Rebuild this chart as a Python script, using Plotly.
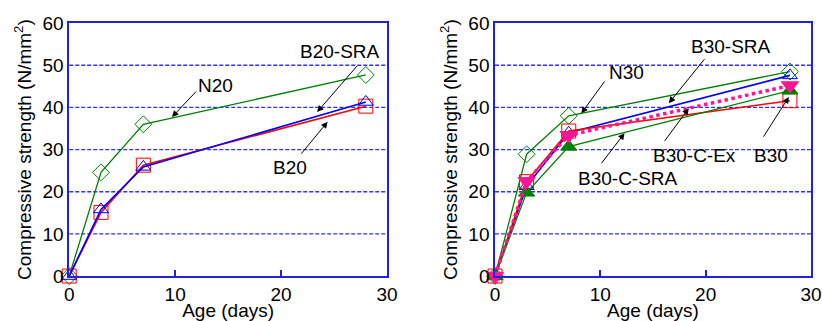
import plotly.graph_objects as go
from plotly.subplots import make_subplots

# ---- data ----
age = [0, 3, 7, 28]

n20 = [0, 24.6, 36.0, 47.7]
b20 = [0, 15.1, 26.3, 40.3]
b20_sra = [0, 15.8, 25.9, 41.3]

n30 = [0, 28.9, 38.0, 48.5]
b30_sra = [0, 21.3, 34.0, 47.6]
b30 = [0, 22.4, 34.4, 41.6]
b30_c_ex = [0, 22.5, 33.4, 45.2]
b30_c_sra = [0, 19.8, 30.7, 44.0]

x_ticks = [0, 10, 20, 30]
y_ticks = [0, 10, 20, 30, 40, 50, 60]

GREEN = "#008000"
RED = "#ff0000"
BLUE = "#0000ff"
PINK = "#ff1493"
AXIS = "#2222dd"
GRID = "#3030ff"
FONT = "Liberation Sans, Arial, sans-serif"

fig = make_subplots(rows=1, cols=2)

def add(col, y, color, symbol, size, width=1.4, dash="solid", name=""):
    fig.add_trace(go.Scatter(
        x=age, y=y, mode="lines+markers", name=name,
        line=dict(color=color, width=width, dash=dash),
        marker=dict(symbol=symbol, size=size, color=color,
                    line=dict(color=color, width=1)),
        cliponaxis=False, showlegend=False), row=1, col=col)

# dotted horizontal grid lines at the y tick values (below the data)
for col in (1, 2):
    xr = "x domain" if col == 1 else "x2 domain"
    yr = "y" if col == 1 else "y2"
    for v in y_ticks[1:-1]:
        fig.add_shape(type="line", xref=xr, yref=yr, x0=0, x1=1, y0=v, y1=v,
                      line=dict(color=GRID, width=1.3, dash="4px,2px"),
                      layer="below")

# left panel
add(1, n20, GREEN, "diamond-open", 13, 1.3, name="N20")
add(1, b20, RED, "square-open", 14, 1.6, name="B20")
add(1, b20_sra, BLUE, "triangle-up-open", 13, 1.6, name="B20-SRA")

# right panel
add(2, n30, GREEN, "diamond-open", 13, 1.3, name="N30")
add(2, b30_sra, BLUE, "triangle-up-open", 13, 1.6, name="B30-SRA")
add(2, b30, RED, "square-open", 14, 1.6, name="B30")
add(2, b30_c_sra, GREEN, "triangle-up", 14, 1.3, name="B30-C-SRA")
add(2, b30_c_ex, PINK, "triangle-down", 15, 3.5, dash="dot", name="B30-C-Ex")

tick_font = dict(size=19, color="black", family=FONT)
title_font = dict(size=19, family=FONT, color="black")

fig.update_xaxes(range=[0, 30], tickvals=x_ticks, ticks="inside",
                 ticklen=6, tickcolor=AXIS, tickwidth=1.5, showgrid=False,
                 showline=True, linecolor=AXIS, linewidth=1.5, mirror=True,
                 tickfont=tick_font, zeroline=False, automargin=False,
                 title=dict(text="Age (days)", font=title_font, standoff=2))
fig.update_yaxes(range=[0, 60], tickvals=y_ticks, ticks="",
                 showgrid=False,
                 showline=True, linecolor=AXIS, linewidth=1.5, mirror=True,
                 tickfont=tick_font, zeroline=False, automargin=False,
                 domain=[0.14, 0.928],
                 title=dict(text="Compressive strength (N/mm<sup>2</sup>)",
                            font=title_font, standoff=6))
fig.update_xaxes(domain=[0.0842, 0.4708], row=1, col=1)
fig.update_xaxes(domain=[0.6022, 0.9866], row=1, col=2)

# ---- annotations: labels and arrows ----
labels = [
    # (panel, text, tx, ty, arrow_tail_x, arrow_tail_y, head_x, head_y)
    (1, "N20", 13.8, 45.1, 12.1, 44.1, 9.7, 37.7),
    (1, "B20-SRA", 25.6, 53.2, 27.3, 50.2, 23.4, 38.9),
    (1, "B20", 20.8, 25.8, 21.8, 28.7, 24.4, 36.6),
    (2, "N30", 12.5, 48.4, 10.5, 46.5, 8.2, 38.6),
    (2, "B30-SRA", 22.4, 54.4, 20.0, 51.8, 16.5, 41.0),
    (2, "B30-C-Ex", 18.9, 28.7, 16.0, 31.7, 18.4, 39.8),
    (2, "B30", 26.2, 28.7, 25.4, 32.7, 27.9, 42.5),
    (2, "B30-C-SRA", 12.6, 23.1, 10.0, 26.4, 12.3, 33.9),
]

for panel, text, tx, ty, axx, ayy, hx, hy in labels:
    xr = "x" if panel == 1 else "x2"
    yr = "y" if panel == 1 else "y2"
    fig.add_annotation(x=tx, y=ty, xref=xr, yref=yr, text=text,
                       showarrow=False, font=title_font)
    fig.add_annotation(x=hx, y=hy, ax=axx, ay=ayy, xref=xr, yref=yr,
                       axref=xr, ayref=yr, text="", showarrow=True,
                       arrowhead=2, arrowsize=1.3, arrowwidth=1,
                       arrowcolor="black")

fig.update_layout(
    width=822, height=321,
    margin=dict(l=0, r=0, t=0, b=0),
    paper_bgcolor="white", plot_bgcolor="white",
    font=dict(family=FONT, color="black"),
)

fig.write_html("out.html", config={"displayModeBar": False},
               post_script="document.body.style.margin='0';document.body.style.overflow='hidden';")
